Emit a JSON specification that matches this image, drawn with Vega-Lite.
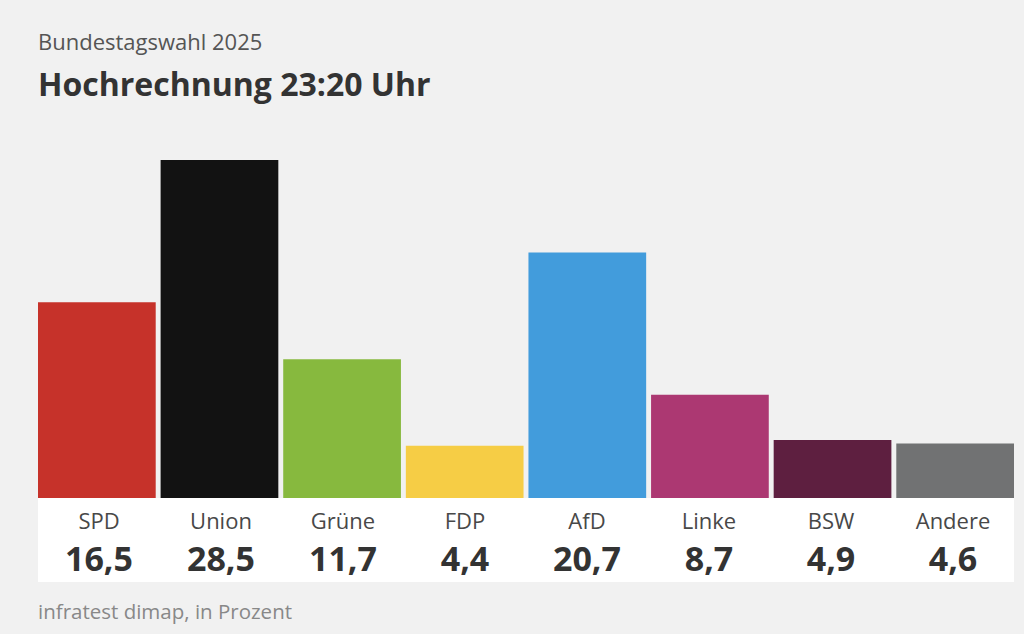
{
  "$schema": "https://vega.github.io/schema/vega-lite/v6.json",
  "padding": {"left": 38, "top": 32, "right": 10, "bottom": 40},
  "background": "#f1f1f1",
  "title": {
    "text": "Bundestagswahl 2025",
    "subtitle": "Hochrechnung 23:20 Uhr",
    "anchor": "start",
    "font": "Open Sans",
    "fontSize": 22,
    "fontWeight": "normal",
    "color": "#555555",
    "subtitleFont": "Open Sans",
    "subtitleFontSize": 32,
    "subtitleFontWeight": "bold",
    "subtitleColor": "#333333",
    "subtitlePadding": 16,
    "offset": 57
  },
  "datasets": {
    "parteien": [
      {"partei": "SPD", "wert": 16.5, "anzeige": "16,5"},
      {"partei": "Union", "wert": 28.5, "anzeige": "28,5"},
      {"partei": "Grüne", "wert": 11.7, "anzeige": "11,7"},
      {"partei": "FDP", "wert": 4.4, "anzeige": "4,4"},
      {"partei": "AfD", "wert": 20.7, "anzeige": "20,7"},
      {"partei": "Linke", "wert": 8.7, "anzeige": "8,7"},
      {"partei": "BSW", "wert": 4.9, "anzeige": "4,9"},
      {"partei": "Andere", "wert": 4.6, "anzeige": "4,6"}
    ]
  },
  "spacing": 0,
  "vconcat": [
    {
      "width": 976,
      "height": 338,
      "data": {"name": "parteien"},
      "mark": {"type": "bar"},
      "encoding": {
        "x": {"field": "partei", "type": "nominal", "sort": null, "axis": null, "scale": {"paddingInner": 0.04, "paddingOuter": 0}},
        "y": {"field": "wert", "type": "quantitative", "axis": null, "scale": {"domain": [0, 28.5], "nice": false}},
        "color": {
          "field": "partei",
          "type": "nominal",
          "legend": null,
          "scale": {
            "domain": ["SPD", "Union", "Grüne", "FDP", "AfD", "Linke", "BSW", "Andere"],
            "range": ["#c6322a", "#121212", "#87b93e", "#f6cd45", "#429cdc", "#ac3872", "#5e1f40", "#717273"]
          }
        }
      }
    },
    {
      "width": 976,
      "height": 84,
      "view": {"fill": "#ffffff", "stroke": null},
      "title": {
        "text": "infratest dimap, in Prozent",
        "orient": "bottom",
        "anchor": "start",
        "font": "Open Sans",
        "fontSize": 20.5,
        "fontWeight": "normal",
        "color": "#888888",
        "offset": 21
      },
      "data": {"name": "parteien"},
      "layer": [
        {
          "mark": {"type": "text", "font": "Open Sans", "fontSize": 22, "color": "#484848", "baseline": "alphabetic", "align": "center", "dy": -11},
          "encoding": {
            "x": {"field": "partei", "type": "nominal", "sort": null, "axis": null, "scale": {"paddingInner": 0.04, "paddingOuter": 0}},
            "text": {"field": "partei"}
          }
        },
        {
          "mark": {"type": "text", "font": "Open Sans", "fontSize": 34, "fontWeight": "bold", "color": "#333333", "baseline": "alphabetic", "align": "center", "dy": 31},
          "encoding": {
            "x": {"field": "partei", "type": "nominal", "sort": null, "axis": null},
            "text": {"field": "anzeige"}
          }
        }
      ]
    }
  ],
  "config": {"view": {"stroke": null}}
}
